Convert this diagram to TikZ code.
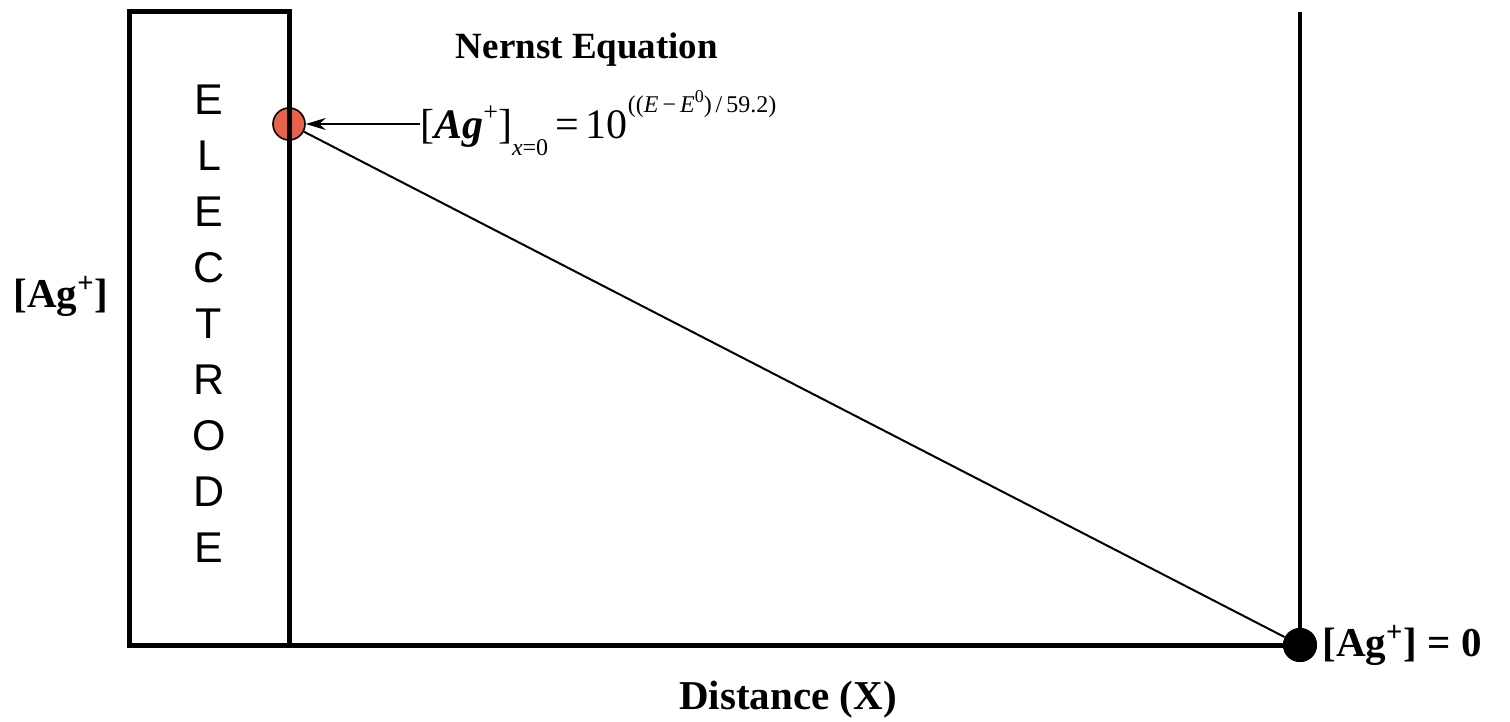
\documentclass[tikz,border=0pt]{standalone}
\usepackage{fontspec}
\setmainfont{Liberation Serif}
\newfontfamily\arialf{Liberation Sans}
\usetikzlibrary{arrows.meta}
\definecolor{dotred}{HTML}{E8624B}
\tikzset{
  thickline/.style={line width=2.5pt, line cap=rect},
  thinline/.style={line width=1pt},
  reddot/.style={circle, draw=black, line width=0.8pt, fill=dotred, minimum size=16pt, inner sep=0pt},
  blackdot/.style={circle, fill=black, minimum size=17pt, inner sep=0pt},
  boldlabel/.style={font=\fontsize{20.5pt}{24pt}\selectfont\bfseries, inner sep=0pt},
}
\begin{document}
\begin{tikzpicture}[x=0.5pt, y=-0.5pt]
\useasboundingbox (0,0) rectangle (1510,722);
% points
\node[reddot] (top) at (289,124) {};
\node[blackdot] (bot) at (1300,645) {};
\coordinate (boxtl) at (129,12);
\coordinate (boxbr) at (289,645);
\coordinate (rtop) at (1300,12);
% diagonal
\draw[thinline] (top) -- (bot);
% electrode box
\draw[thickline] (boxtl) rectangle (boxbr);
% axis lines
\draw[thickline] (boxbr) -- (bot.center);
\draw[line width=2pt] (rtop) -- (bot.center);
\node[blackdot] at (bot) {};
% electrode letters
\node[font=\arialf\fontsize{21.5pt}{28pt}\selectfont, align=center, inner sep=0pt] (electrode) at (209,324)
  {E\\L\\E\\C\\T\\R\\O\\D\\E};
% equation
\node[anchor=base west, inner sep=0pt, font=\fontsize{21pt}{24pt}\selectfont] (eq) at (420,139)
  {[\textbf{\textit{Ag}}\raisebox{0.45em}{\fontsize{13pt}{13pt}\selectfont +}]\raisebox{-0.4em}{\fontsize{12pt}{12pt}\selectfont\textit{x}=0}\,=\,10\raisebox{0.62em}{\fontsize{12pt}{12pt}\selectfont((\textit{E}\,−\,\textit{E}\raisebox{0.45em}{\fontsize{9pt}{9pt}\selectfont 0})\,/\,59.2)}};
\draw[thinline, -{Stealth[length=10pt, width=6pt]}] (eq.west |- top) -- (top);
% labels
\node[font=\fontsize{18.5pt}{22pt}\selectfont\bfseries, inner sep=0pt] (title) at (587,50) {Nernst Equation};
\node[boldlabel] (ylab) at (61,296) {[Ag\textsuperscript{+}]};
\node[boldlabel, anchor=west] (zero) at (1322,645) {[Ag\textsuperscript{+}] = 0};
\node[boldlabel] (xlab) at (788,700) {Distance (X)};
\end{tikzpicture}
\end{document}
